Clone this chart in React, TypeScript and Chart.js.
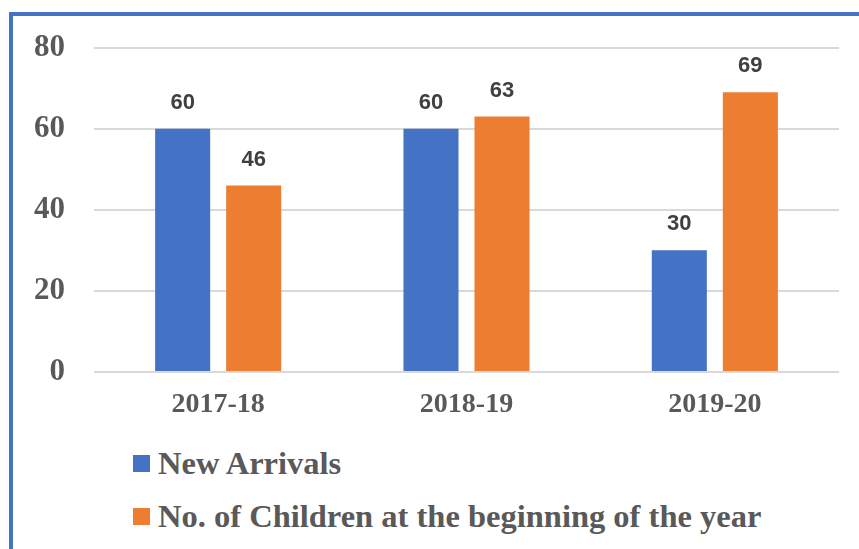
import React, { useEffect, useRef } from "react";
import { Chart, registerables } from "chart.js";

Chart.register(...registerables);

const categories = ["2017-18", "2018-19", "2019-20"];
const newArrivals = [60, 60, 30];
const childrenAtStart = [46, 63, 69];
const seriesNames = ["New Arrivals", "No. of Children at the beginning of the year"];
const seriesColors = ["#4472C4", "#ED7D31"];
const yTicks = [0, 20, 40, 60, 80];

const valueLabels = {
  id: "valueLabels",
  afterDatasetsDraw(chart: any) {
    const ctx = chart.ctx;
    ctx.save();
    ctx.font = "bold 22px 'Liberation Sans', Arial, sans-serif";
    ctx.fillStyle = "#404040";
    ctx.textAlign = "center";
    ctx.textBaseline = "middle";
    chart.data.datasets.forEach((ds: any, i: number) => {
      const meta = chart.getDatasetMeta(i);
      meta.data.forEach((el: any, j: number) => {
        ctx.fillText(String(ds.data[j]), el.x, el.y - 26);
      });
    });
    ctx.restore();
  },
};

export default function App() {
  const ref = useRef<HTMLCanvasElement>(null);
  useEffect(() => {
    if (!ref.current) return;
    const chart = new Chart(ref.current, {
      type: "bar",
      data: {
        labels: categories,
        datasets: [
          {
            label: seriesNames[0],
            data: newArrivals,
            backgroundColor: seriesColors[0],
            categoryPercentage: 0.572,
            barPercentage: 0.775,
          },
          {
            label: seriesNames[1],
            data: childrenAtStart,
            backgroundColor: seriesColors[1],
            categoryPercentage: 0.572,
            barPercentage: 0.775,
          },
        ],
      },
      options: {
        responsive: false,
        animation: false,
        layout: { padding: { left: 0, right: 20, top: 47, bottom: 0 } },
        plugins: { legend: { display: false }, tooltip: { enabled: false } },
        scales: {
          x: {
            grid: { display: false, drawTicks: false },
            border: { display: false },
            ticks: {
              padding: 16,
              color: "#595959",
              font: { family: "'Liberation Serif', serif", size: 28, weight: "bold" },
            },
            afterFit: (s: any) => {
              s.height = 68;
            },
          },
          y: {
            min: 0,
            max: 80,
            afterBuildTicks: (s: any) => {
              s.ticks = yTicks.map((v) => ({ value: v }));
            },
            grid: { color: "#d9d9d9", lineWidth: 2, drawTicks: false },
            border: { display: false },
            ticks: {
              padding: 29,
              color: "#595959",
              font: { family: "'Liberation Serif', serif", size: 31, weight: "bold" },
            },
            afterFit: (s: any) => {
              s.width = 94;
            },
          },
        },
      },
      plugins: [valueLabels],
    });
    return () => chart.destroy();
  }, []);

  const legendText: React.CSSProperties = {
    position: "absolute",
    left: 158,
    fontFamily: "'Liberation Serif', serif",
    fontWeight: "bold",
    fontSize: 32.5,
    lineHeight: "32px",
    color: "#595959",
    whiteSpace: "nowrap",
  };

  return (
    <div
      style={{
        position: "fixed",
        left: 0,
        top: 0,
        width: 859,
        height: 549,
        background: "#fff",
        overflow: "hidden",
      }}
    >
      <div
        style={{
          position: "absolute",
          left: 9,
          top: 12,
          width: 900,
          height: 600,
          border: "4px solid #4472C4",
        }}
      />
      <canvas
        ref={ref}
        width={859}
        height={440}
        style={{ position: "absolute", left: 0, top: 0 }}
      />
      <div style={{ position: "absolute", left: 133, top: 455, width: 17, height: 17, background: seriesColors[0] }} />
      <div style={{ ...legendText, top: 447 }}>{seriesNames[0]}</div>
      <div style={{ position: "absolute", left: 133, top: 508, width: 17, height: 17, background: seriesColors[1] }} />
      <div style={{ ...legendText, top: 500 }}>{seriesNames[1]}</div>
    </div>
  );
}
